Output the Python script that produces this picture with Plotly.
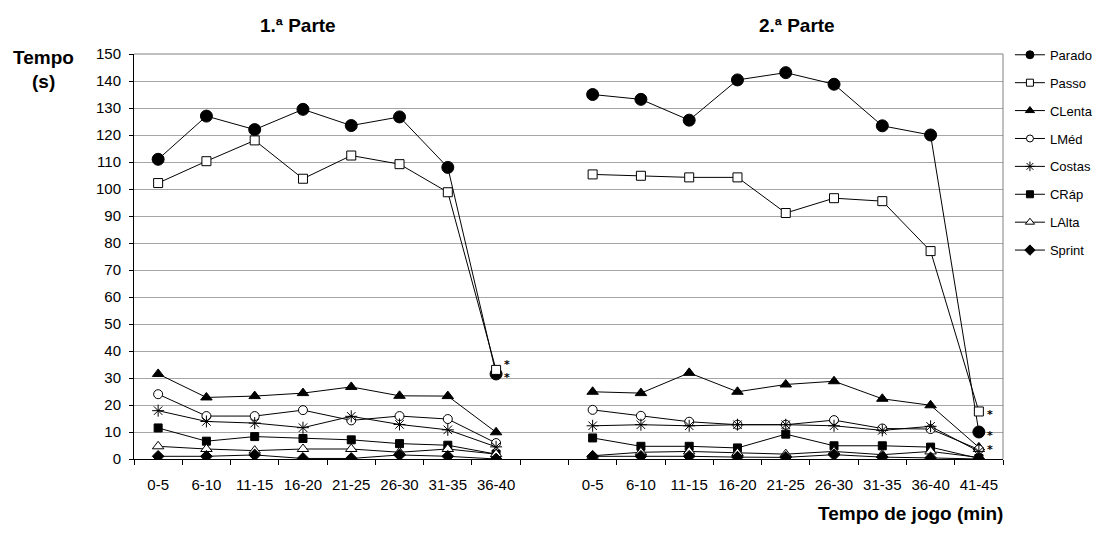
import plotly.graph_objects as go

labels_1 = ["0-5", "6-10", "11-15", "16-20", "21-25", "26-30", "31-35", "36-40"]
labels_2 = ["0-5", "6-10", "11-15", "16-20", "21-25", "26-30", "31-35", "36-40", "41-45"]

series_names = ["Parado", "Passo", "CLenta", "LMéd", "Costas", "CRáp", "LAlta", "Sprint"]

parado_1 = [111, 127, 122, 129.5, 123.5, 126.7, 108, 31.5]
parado_2 = [135, 133.2, 125.5, 140.4, 143.1, 138.8, 123.4, 120, 10]
passo_1 = [102.2, 110.3, 118, 103.8, 112.4, 109.2, 98.8, 33]
passo_2 = [105.4, 104.9, 104.3, 104.3, 91.1, 96.6, 95.5, 77, 17.6]
clenta_1 = [31.5, 22.8, 23.3, 24.4, 26.7, 23.4, 23.3, 9.9]
clenta_2 = [24.9, 24.4, 31.9, 24.9, 27.6, 28.8, 22.3, 19.9, 4.3]
lmed_1 = [24, 15.9, 15.9, 18.1, 14.3, 15.9, 14.8, 5.9]
lmed_2 = [18.2, 16, 13.8, 12.7, 12.7, 14.4, 11.3, 11.1, 3.5]
costas_1 = [17.9, 13.9, 13.3, 11.6, 15.8, 12.8, 10.8, 4.5]
costas_2 = [12.3, 12.7, 12.3, 12.7, 12.7, 12.3, 10.6, 12.1, 2.8]
crap_1 = [11.5, 6.6, 8.3, 7.6, 7.1, 5.7, 5.1, 1.8]
crap_2 = [7.8, 4.7, 4.7, 4.1, 9.2, 4.9, 4.9, 4.4, 0.2]
lalta_1 = [4.7, 3.7, 3.1, 3.7, 3.7, 2.5, 3.7, 1.8]
lalta_2 = [1.2, 2.5, 2.8, 2.2, 1.8, 2.8, 1.6, 2.8, 0.6]
sprint_1 = [1.0, 1.0, 1.5, 0.2, 0.2, 1.5, 1.0, 0.0]
sprint_2 = [1.0, 1.0, 1.0, 0.7, 0.6, 1.6, 0.7, 0.4, 0.0]

first_halves = [parado_1, passo_1, clenta_1, lmed_1, costas_1, crap_1, lalta_1, sprint_1]
second_halves = [parado_2, passo_2, clenta_2, lmed_2, costas_2, crap_2, lalta_2, sprint_2]

# significance marks (*) : (category index, value)
star_marks = [(7, 35.6), (7, 30.8), (17, 17.4), (17, 9.6), (17, 4.3)]

symbols = ["circle", "square", "triangle-up", "circle", "asterisk-open", "square", "triangle-up", "diamond"]
fills = ["black", "white", "black", "white", "black", "black", "white", "black"]
sizes = [12, 9, 10, 9, 10, 8, 10, 9]
legend_sizes = [8, 7, 8, 7, 8, 7, 8, 8]

n1 = len(labels_1)
x_vals = list(range(n1)) + list(range(n1 + 1, n1 + 1 + len(labels_2)))
x_plot = list(range(n1)) + [n1] + list(range(n1 + 1, n1 + 1 + len(labels_2)))
tick_text = labels_1 + labels_2

FONT = "Liberation Sans, Arial, sans-serif"

L, R, T, B = 134, 107, 54, 77
W, H = 1110, 536
pw, ph = W - L - R, H - T - B

fig = go.Figure()
for i, name in enumerate(series_names):
    y = first_halves[i] + [None] + second_halves[i]
    fig.add_trace(go.Scatter(
        x=x_plot, y=y, name=name, mode="lines+markers",
        line=dict(color="black", width=1),
        marker=dict(symbol=symbols[i], size=sizes[i], color=fills[i],
                    line=dict(color="black", width=1)),
        connectgaps=False, legendgroup=name, showlegend=False,
    ))
for i, name in enumerate(series_names):
    fig.add_trace(go.Scatter(
        x=[None], y=[None], name=name, mode="lines+markers",
        line=dict(color="black", width=1),
        marker=dict(symbol=symbols[i], size=legend_sizes[i], color=fills[i],
                    line=dict(color="black", width=1)),
        legendgroup=name, showlegend=True,
    ))

for xi, yv in star_marks:
    fig.add_annotation(x=xi, y=yv, text="<b>*</b>", showarrow=False, xref="x", yref="y",
                       xshift=11, yshift=-2, yanchor="middle",
                       font=dict(size=11, color="black", family="DejaVu Sans"))

layout_texts = [
    ("<b>1.ª Parte</b>", 298, 25, "center", 19),
    ("<b>2.ª Parte</b>", 797, 25, "center", 19),
    ("<b>Tempo</b>", 43, 57, "center", 19),
    ("<b>(s)</b>", 43, 82, "center", 19),
    ("<b>Tempo de jogo (min)</b>", 1005, 513, "right", 19),
]
for text, px, py, anc, fs in layout_texts:
    fig.add_annotation(x=(px - L) / pw, y=(H - B - py) / ph, xref="paper", yref="paper",
                       text=text, showarrow=False, xanchor=anc, yanchor="middle",
                       font=dict(size=fs, family=FONT, color="black"))

fig.add_shape(type="line", xref="paper", yref="paper", x0=0, x1=1, y0=1, y1=1,
              line=dict(color="#808080", width=1))
fig.add_shape(type="line", xref="paper", yref="paper", x0=1, x1=1, y0=0, y1=1,
              line=dict(color="#808080", width=1))

fig.update_layout(
    width=W, height=H,
    margin=dict(l=L, r=R, t=T, b=B, autoexpand=False),
    paper_bgcolor="white", plot_bgcolor="white",
    font=dict(family=FONT, size=13, color="black"),
    showlegend=True,
    legend=dict(x=1.008, y=1.035, xanchor="left", yanchor="top",
                bgcolor="rgba(0,0,0,0)", borderwidth=0,
                font=dict(size=13, family=FONT, color="black"),
                tracegroupgap=8),
    xaxis=dict(
        range=[-0.5, n1 + len(labels_2) + 0.5],
        tickmode="array", tickvals=x_vals, ticktext=tick_text,
        ticks="", showgrid=False, zeroline=False,
        showline=True, linecolor="black", linewidth=1,
        tickfont=dict(size=15, family=FONT, color="black"),
        ticklabelstandoff=12,
        minor=dict(tickmode="array", tickvals=[i - 0.5 for i in range(n1 + len(labels_2) + 2)],
                   ticks="outside", ticklen=5, tickcolor="black", showgrid=False),
        fixedrange=True,
    ),
    yaxis=dict(
        range=[0, 150], tickmode="linear", tick0=0, dtick=10,
        showgrid=True, gridcolor="#a6a6a6", gridwidth=1, zeroline=False,
        showline=True, linecolor="black", linewidth=1,
        ticks="outside", ticklen=4, tickcolor="black",
        tickfont=dict(size=15, family=FONT, color="black"),
        ticklabelstandoff=5,
        fixedrange=True,
    ),
)

fig.write_html("out.html")
